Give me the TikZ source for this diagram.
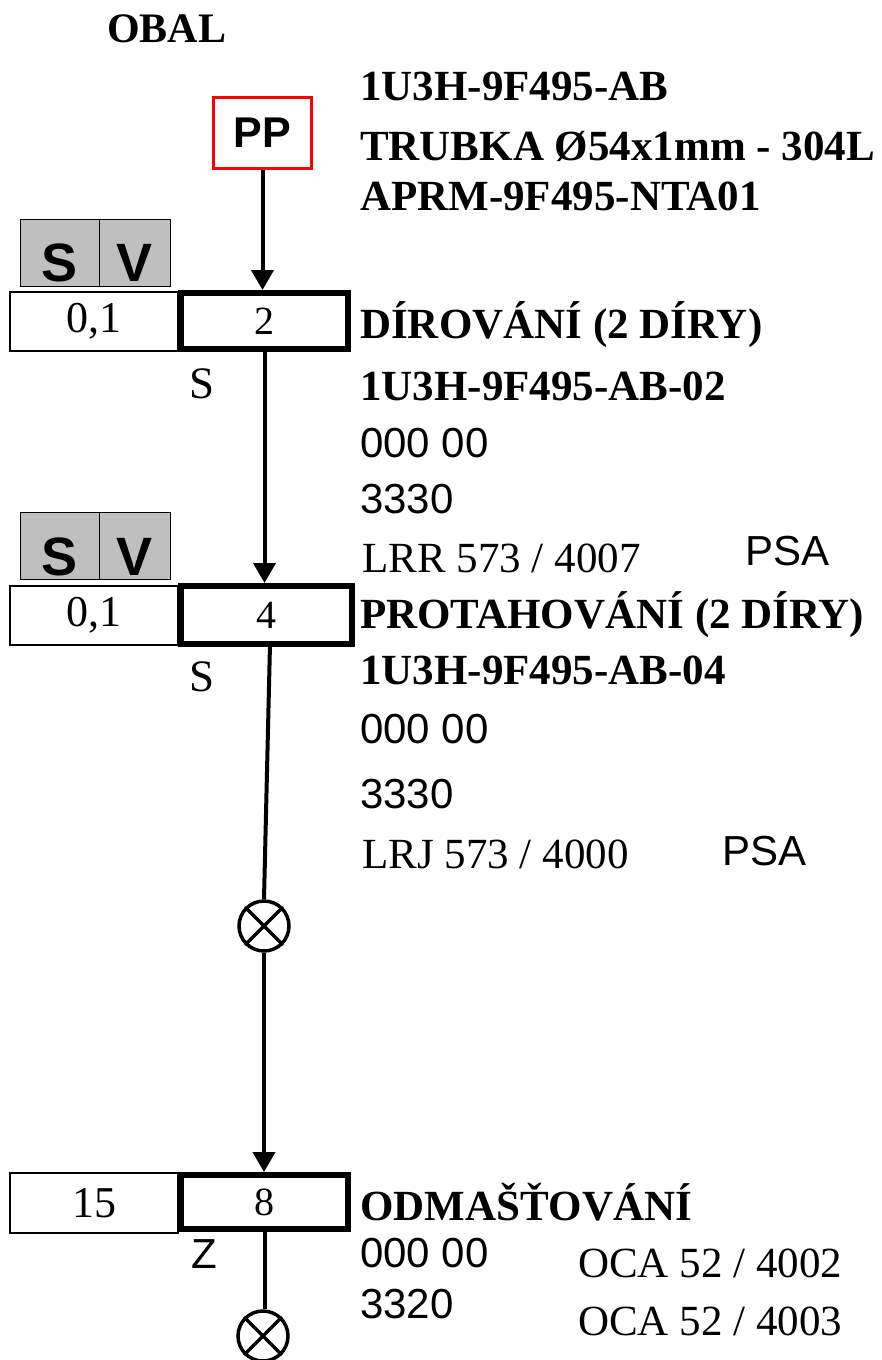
\documentclass[tikz,border=0pt]{standalone}
\usepackage{fontspec}
\setmainfont{Liberation Serif}
\newfontfamily\arialf{Liberation Sans}
\usetikzlibrary{arrows.meta}
\begin{document}
\begin{tikzpicture}[x=1pt,y=-1pt,
  bt/.style={font=\fontsize{43}{43}\selectfont\bfseries, anchor=base west, inner sep=0},
  rt/.style={font=\fontsize{43}{43}\selectfont, anchor=base west, inner sep=0},
  st/.style={font=\arialf\fontsize{42}{42}\selectfont, anchor=base west, inner sep=0},
  lbl/.style={font=\fontsize{45}{45}\selectfont, anchor=base west, inner sep=0},
  opbox/.style={draw, line width=6pt, minimum width=167pt, minimum height=56pt, inner sep=0, font=\fontsize{40}{40}\selectfont},
  valbox/.style={draw, line width=1.2pt, minimum width=168pt, minimum height=59pt, inner sep=0, font=\fontsize{44}{44}\selectfont},
  graybox/.style={draw, fill=black!25, line width=1pt, minimum height=67pt, inner sep=0},
  svt/.style={font=\arialf\bfseries\fontsize{54}{54}\selectfont, anchor=base, inner sep=0},
  flow/.style={line width=4pt, -{Triangle[length=20pt,width=22pt]}},
  plain/.style={line width=4pt},
  endc/.style={draw, circle, line width=3.5pt, minimum size=50pt, inner sep=0},
  xline/.style={line width=3.5pt}
]
\useasboundingbox (0,0) rectangle (881,1360);

% header
\node[bt, font=\fontsize{42}{42}\selectfont\bfseries] (obal) at (107,42) {OBAL};
\node[draw=red, line width=3pt, minimum width=98pt, minimum height=71pt, inner sep=0,
      font=\arialf\bfseries\fontsize{43}{43}\selectfont] (pp) at (262.5,133) {PP};
\node[bt] (t1) at (360,100) {1U3H-9F495-AB};
\node[bt] (t2) at (360,160) {TRUBKA Ø54x1mm - 304L};
\node[bt] (t3) at (360,210) {APRM-9F495-NTA01};

% operation 2
\node[graybox, minimum width=79pt] (sa1) at (59.5,252.5) {};
\node[graybox, minimum width=71pt] (sb1) at (134.5,252.5) {};
\node[svt] (sat1) at ([yshift=5pt]sa1.south) {S};
\node[svt] (sbt1) at ([yshift=5pt]sb1.south) {V};
\node[valbox] (v1) at (94,321.5) {0,1};
\node[opbox] (b2) at (264.5,321) {2};
\node[lbl] (s1) at (189,398) {S};
\node[bt] (o2a) at (360,338) {DÍROVÁNÍ (2 DÍRY)};
\node[bt] (o2b) at (360,400) {1U3H-9F495-AB-02};
\node[st] (o2c) at (360,457) {000 00};
\node[st] (o2d) at (360,513) {3330};
\node[rt] (o2e) at (362,572) {LRR 573 / 4007};
\node[st] (o2f) at (745,565) {PSA};

% operation 4
\node[graybox, minimum width=79pt] (sa2) at (59.5,546) {};
\node[graybox, minimum width=71pt] (sb2) at (134.5,546) {};
\node[svt] (sat2) at ([yshift=5pt]sa2.south) {S};
\node[svt] (sbt2) at ([yshift=5pt]sb2.south) {V};
\node[valbox] (v2) at (94,615.5) {0,1};
\node[opbox, minimum width=171pt, minimum height=58pt] (b4) at (266.5,615) {4};
\node[lbl] (s2) at (189,691) {S};
\node[bt] (o4a) at (360,628) {PROTAHOVÁNÍ (2 DÍRY)};
\node[bt] (o4b) at (360,684) {1U3H-9F495-AB-04};
\node[st] (o4c) at (360,743) {000 00};
\node[st] (o4d) at (360,808) {3330};
\node[rt] (o4e) at (362,868) {LRJ 573 / 4000};
\node[st] (o4f) at (722,865) {PSA};

% storage circle
\node[endc] (c1) at (264,926) {};
\draw[xline] (c1.north west) -- (c1.south east);
\draw[xline] (c1.north east) -- (c1.south west);

% operation 8
\node[valbox, minimum height=60pt] (v3) at (94,1203) {15};
\node[opbox, minimum height=54pt] (b8) at (264.5,1202) {8};
\node[st] (z3) at (191,1268) {Z};
\node[bt] (o8a) at (360,1220) {ODMAŠŤOVÁNÍ};
\node[st] (o8b) at (360,1267) {000 00};
\node[rt] (o8c) at (578,1277) {OCA 52 / 4002};
\node[st] (o8d) at (360,1318) {3320};
\node[rt] (o8e) at (578,1335) {OCA 52 / 4003};

\node[endc] (c2) at (263,1336) {};
\draw[xline] (c2.north west) -- (c2.south east);
\draw[xline] (c2.north east) -- (c2.south west);

% connectors
\draw[flow] (pp.south) -- (pp.south |- b2.north);
\draw[flow] ([yshift=3pt]b2.south) -- (b2.south |- b4.north);
\draw[plain] ([xshift=3.5pt,yshift=3pt]b4.south) -- (c1.north);
\draw[flow] (c1.south) -- (c1.south |- b8.north);
\draw[plain] ([yshift=3pt]b8.south) -- (b8.south |- c2.north);
\end{tikzpicture}
\end{document}
